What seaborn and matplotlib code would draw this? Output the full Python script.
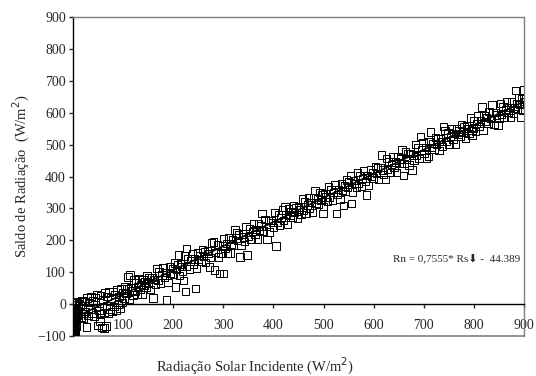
import numpy as np
import pandas as pd
import seaborn as sns
import matplotlib.pyplot as plt

# night-time readings (Rs ~ 0)
night_rs = [0, 0, 0, 0, 0, 0, 0, 0, 0, 0, 1, 1, 1, 1, 1, 2, 2, 2, 2, 2, 3, 3, 3, 3,
            4, 4, 4, 5, 5, 5, 6, 6, 7, 7, 8, 8, 9, 10, 10, 11]
night_rn = [-100, -96, -90, -84, -78, -70, -62, -55, -48, -40, -98, -86, -74, -60, -30,
            -92, -80, -66, -50, -20, -88, -72, -45, -10, -95, -58, -25, -82, -38, 0,
            -68, -15, -52, 5, -35, 8, -22, -12, -42, 3]

# daytime readings (Rs, Rn)
day_pts = [(14,-5),(16,-40),(18,12),(20,-30),(21,-44),(23,8),(25,-22),(27,-71),(28,20),(30,-35),
    (32,5),(34,-15),(36,25),(38,-28),(40,10),(42,-38),(44,22),(46,-10),(48,30),(50,-66),(52,-20),
    (54,-55),(55,28),(56,-30),(58,-72),(60,15),(62,-75),(62,-25),(64,35),(66,-68),(67,-5),(68,25),
    (70,-30),(72,38),(74,-15),(76,20),(78,-22),(80,40),(82,-8),(84,30),(86,-18),(88,45),(90,0),
    (92,25),(94,-12),(96,50),(98,5),
    (100,37),(102,19),(104,55),(106,33),(108,49),(110,85),(112,14),(114,91),(116,52),(118,44),
    (120,29),(122,76),(124,41),(126,66),(128,31),(130,56),(132,79),(134,46),(136,62),(138,30),
    (140,78),(142,58),(144,70),(146,52),(148,88),(150,66),(152,82),(155,47),(158,84),(160,19),
    (162,77),(165,63),(168,111),(170,76),(172,101),(175,67),(178,92),(180,116),(183,83),(185,99),
    (187,13),(190,69),(192,118),(195,98),(198,111),(200,93),(202,129),(204,54),(206,108),(208,125),
    (210,154),(212,90),(214,126),(216,118),(218,103),(220,75),(222,151),(224,39),(226,118),(227,175),
    (229,144),(232,110),(235,135),(238,159),(240,126),(242,142),(244,50),(246,111),(248,160),(250,140),
    (253,153),(256,135),(258,172),(260,149),(263,166),(265,130),(268,167),(270,159),(273,117),(275,146),
    (277,192),(280,195),(283,107),(285,163),(288,188),(290,148),(293,97),(295,158),(298,183),(300,97),
    (300,206),(303,174),(306,191),(308,158),(310,207),(313,161),(315,189),(318,202),(320,183),(323,232),
    (326,223),(328,200),(330,217),(333,148),(335,183),(338,220),(340,211),(342,197),(345,244),(347,154),
    (350,212),(352,237),(355,203),(358,228),(360,252),(363,219),(365,235),(368,204),(370,252),(372,232),
    (375,245),(377,284),(380,229),(383,266),(385,244),(387,203),(390,262),(392,226),(395,263),(398,255),
    (400,241),(402,287),(405,182),(408,256),(410,280),(412,246),(415,271),(418,295),(420,262),(423,305),
    (425,281),(428,249),(430,298),(433,278),(435,290),(438,273),(440,309),(442,287),(445,304),(448,268),
    (450,305),(452,296),(455,282),(458,330),(460,295),(462,320),(465,286),(468,311),(470,335),(472,301),
    (475,318),(478,287),(480,335),(483,357),(485,317),(488,330),(490,312),(493,349),(495,327),(497,343),
    (499,284),(500,307),(503,345),(505,336),(508,322),(510,369),(512,334),(515,360),(518,326),(520,350),
    (523,375),(526,284),(528,343),(530,360),(533,328),(535,377),(537,356),(539,310),(541,370),(544,353),
    (546,389),(548,367),(550,383),(553,404),(556,316),(558,351),(560,388),(562,379),(565,365),(568,413),
    (570,378),(572,403),(575,369),(578,394),(580,418),(583,385),(586,342),(588,404),(590,371),(593,421),
    (595,400),(598,413),(600,395),(603,432),(605,410),(608,427),(610,390),(613,428),(616,467),(618,421),
    (620,407),(623,391),(625,456),(628,422),(630,447),(633,413),(635,437),(638,462),(640,428),(643,445),
    (645,413),(648,462),(650,442),(653,455),(656,483),(659,404),(660,440),(663,477),(665,455),(668,472),
    (670,436),(673,473),(676,420),(678,467),(680,452),(683,500),(685,465),(688,490),(690,456),(693,525),
    (695,483),(698,507),(700,473),(703,491),(705,458),(709,462),(710,509),(713,540),(715,491),(718,504),
    (720,486),(723,523),(725,500),(728,518),(730,481),(733,518),(735,510),(737,495),(739,556),(742,544),
    (745,510),(748,536),(750,501),(753,526),(755,550),(758,517),(760,534),(763,502),(765,551),(768,531),
    (770,543),(773,526),(775,562),(778,540),(780,557),(783,521),(785,558),(788,550),(790,535),(793,583),
    (796,545),(796,530),(798,550),(800,575),(803,541),(805,566),(808,590),(810,557),(813,574),(816,618),
    (818,544),(820,592),(823,572),(825,585),(828,567),(830,604),(833,582),(836,624),(838,601),(840,564),
    (843,601),(845,593),(848,561),(850,581),(853,628),(855,594),(858,619),(860,584),(863,610),(865,633),
    (868,600),(870,617),(873,585),(875,634),(878,598),(880,615),(882,669),(884,629),(886,611),(888,648),
    (890,625),(892,587),(894,643),(896,607),(898,643),(899,671),(900,635)]

# regression from the original figure: Rn = 0,7555*Rs - 44.389
slope, intercept = 0.7555, -44.389

x_ticks = [100, 200, 300, 400, 500, 600, 700, 800, 900]
y_ticks = [-100, 0, 100, 200, 300, 400, 500, 600, 700, 800, 900]

df = pd.DataFrame({
    'Rs': night_rs + [p[0] for p in day_pts],
    'Rn': night_rn + [p[1] for p in day_pts],
})

sns.set_style('white')
plt.rcParams['font.family'] = ['Liberation Serif', 'DejaVu Sans']

fig = plt.figure(figsize=(5.36, 3.76), dpi=100)
ax = fig.add_axes([0.136, 0.106, 0.842, 0.849])

sns.scatterplot(data=df, x='Rs', y='Rn', ax=ax, marker='s', s=28,
                facecolor='none', edgecolor='black', linewidth=0.7, zorder=3)

xl = np.array([df.Rs.min(), df.Rs.max()])
ax.plot(xl, slope * xl + intercept, color='black', lw=1.2, zorder=4)

ax.set_xlim(0, 900)
ax.set_ylim(-100, 900)
ax.set_xticks(x_ticks)
ax.set_yticks(y_ticks)

# x axis crosses at Rn = 0, grey frame around the plot
ax.spines['bottom'].set_position(('data', 0))
ax.spines['bottom'].set_color('black')
ax.spines['left'].set_color('black')
ax.spines['top'].set_color('#808080')
ax.spines['right'].set_color('#808080')
for s in ax.spines.values():
    s.set_linewidth(1.0)
ax.axhline(-100, color='#808080', lw=1.2, clip_on=False, zorder=1)

ax.tick_params(axis='x', direction='out', length=3, width=1, pad=8, labelsize=10, bottom=True)
ax.tick_params(axis='y', direction='out', length=3, width=1, pad=2, labelsize=10, left=True)

ax.set_xlabel('Radiação Solar Incidente (W/m$^2$)', fontsize=10.5)
ax.xaxis.set_label_coords(0.404, -0.062)
ax.set_ylabel('Saldo de Radiação  (W/m$^2$)', fontsize=10.5, labelpad=4)

ax.text(639, 144, 'Rn = 0,7555* Rs\u2b07 -  44.389', fontsize=8, va='center', ha='left',
        family=['Liberation Serif', 'DejaVu Sans'])

fig.savefig('out.png', dpi=100)
plt.close()
